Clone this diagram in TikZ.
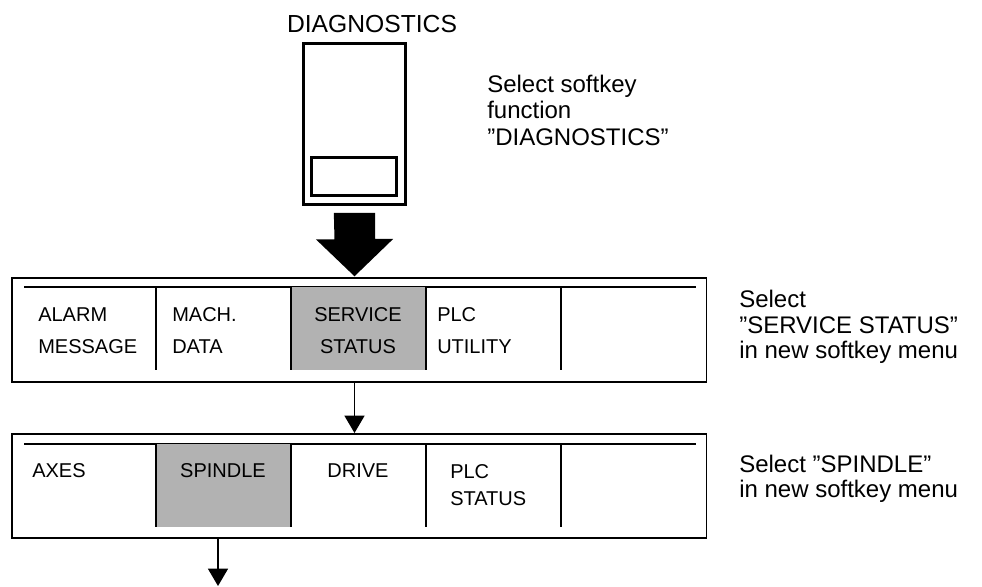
\documentclass[tikz,border=0pt]{standalone}
\usepackage{fontspec}
\setmainfont{Liberation Sans}
\usetikzlibrary{arrows.meta}
\definecolor{KeyShade}{RGB}{178, 178, 178}

\begin{document}
\begin{tikzpicture}[x=0.75pt, y=-0.75pt,
    menutxt/.style={anchor=base west, inner sep=0pt, font=\fontsize{15}{17}\selectfont},
    menumid/.style={anchor=base, inner sep=0pt, font=\fontsize{15}{17}\selectfont},
    sidetxt/.style={anchor=base west, inner sep=0pt, font=\fontsize{18}{20}\selectfont},
    thinarrow/.style={line width=1pt, -{Triangle[width=15pt, length=13pt]}}]
    \useasboundingbox (0,0) rectangle (982,586);
    % Softkey
    \node[draw, line width=2.4pt, inner sep=0pt, minimum width=77pt, minimum height=121pt]
          (key) at (354.5,124) {};
    \node[draw, line width=2.4pt, inner sep=0pt, minimum width=64pt, minimum height=29pt]
          (keybtn) at (354,176.5) {};
    \node[anchor=base, inner sep=0pt, font=\fontsize{18.5}{20}\selectfont] (keylbl) at (372,32) {DIAGNOSTICS};
    % Thick arrow
    \fill ([xshift=-15.5pt, yshift=-5pt]key.south) -- ++(31pt,0) -- ++(0,-19.5pt)
          -- ++(13.5pt,0) -- ([yshift=-52.5pt]key.south) -- ++(-29pt,27.75pt)
          -- ++(14pt,0) -- cycle;
    % Menu 1
    \node[draw, line width=1.2pt, inner sep=0pt, minimum width=521pt, minimum height=78pt,
          anchor=north west] (menuA) at (11,277) {};
    \draw[line width=1.2pt] (24,287) -- (696,287);
    \fill[KeyShade] (291,287) rectangle (426,370);
    \foreach \x in {156,291,426,561} {
        \draw[line width=1.2pt] (\x,287) -- (\x,370);
    }
    \node[menutxt] (alarm) at (38,321) {ALARM};
    \node[menutxt] (alarm2) at (38,353) {MESSAGE};
    \node[menutxt] (mach) at (172,321) {MACH.};
    \node[menutxt] (mach2) at (172,353) {DATA};
    \node[menumid] (serv) at (358,321) {SERVICE};
    \node[menumid] (serv2) at (358,353) {STATUS};
    \node[menutxt] (plcu) at (437,321) {PLC};
    \node[menutxt] (plcu2) at (437,353) {UTILITY};
    % Menu 2
    \node[draw, line width=1.2pt, inner sep=0pt, minimum width=521pt, minimum height=78pt,
          anchor=north west] (menuB) at (11,433) {};
    \draw[line width=1.2pt] (24,444) -- (696,444);
    \fill[KeyShade] (156,444) rectangle (291,527);
    \foreach \x in {156,291,426,561} {
        \draw[line width=1.2pt] (\x,444) -- (\x,527);
    }
    \coordinate (spindle) at (218,537);
    \node[menutxt] (axes) at (32,477) {AXES};
    \node[menumid] (spin) at (223,477) {SPINDLE};
    \node[menumid] (drive) at (358,477) {DRIVE};
    \node[menutxt] (plcs) at (450,478) {PLC};
    \node[menutxt] (plcs2) at (450,505) {STATUS};
    % Thin arrows
    \draw[thinarrow] (menuA.south -| key.south) -- (menuB.north -| key.south);
    \coordinate (endpt) at (218,586);
    \draw[thinarrow] (spindle) -- (endpt);
    % Side notes
    \node[sidetxt] (noteA) at (487,92) {Select softkey};
    \node[sidetxt] (noteA2) at (487,118) {function};
    \node[sidetxt] (noteA3) at (487,145) {”DIAGNOSTICS”};
    \node[sidetxt] (noteB) at (739,307) {Select};
    \node[sidetxt] (noteB2) at (739,333) {”SERVICE STATUS”};
    \node[sidetxt] (noteB3) at (739,358) {in new softkey menu};
    \node[sidetxt] (noteC) at (739,472) {Select ”SPINDLE”};
    \node[sidetxt] (noteC2) at (739,497) {in new softkey menu};
\end{tikzpicture}
\end{document}
